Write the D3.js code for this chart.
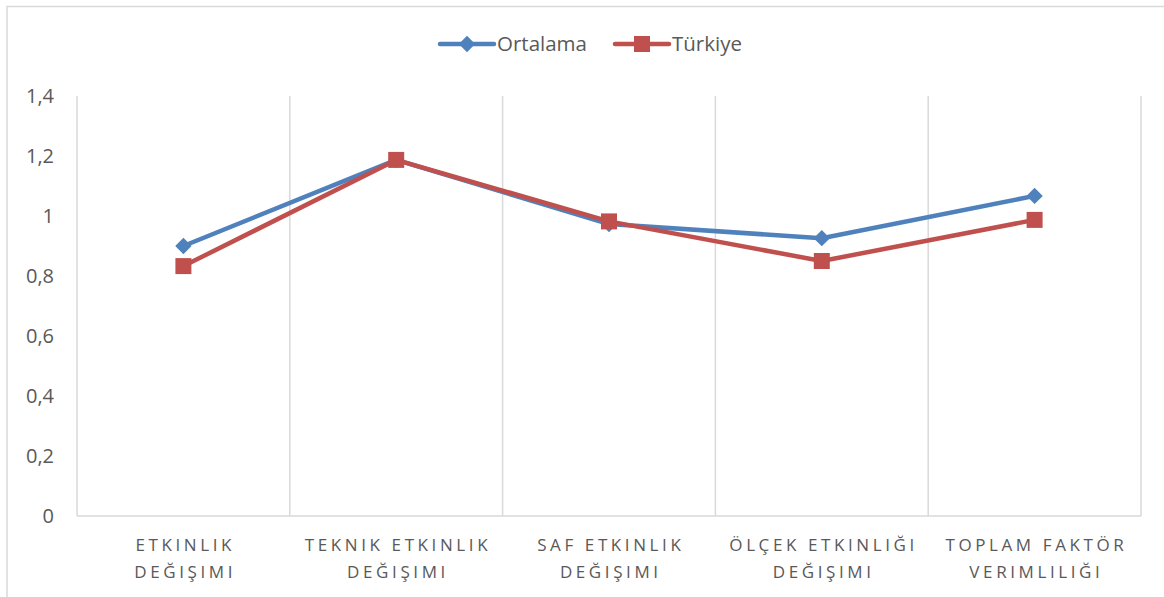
<!DOCTYPE html>
<html>
<head>
<meta charset="utf-8">
<script src="https://cdn.jsdelivr.net/npm/d3@7"></script>
<style>
  body { margin: 0; background: #fff; }
  svg { font-family: "Open Sans", "Noto Sans", sans-serif; }
</style>
</head>
<body>
<svg id="svg" width="1164" height="597"></svg>
<script>
var categories = [
    ["ETKINLIK", "DEĞIŞIMI"],
    ["TEKNIK ETKINLIK", "DEĞIŞIMI"],
    ["SAF ETKINLIK", "DEĞIŞIMI"],
    ["ÖLÇEK ETKINLIĞI", "DEĞIŞIMI"],
    ["TOPLAM FAKTÖR", "VERIMLILIĞI"]
];
var ortalama = [0.90, 1.187, 0.973, 0.926, 1.067];
var turkiye = [0.833, 1.187, 0.982, 0.85, 0.987];
var yTicks = [0, 0.2, 0.4, 0.6, 0.8, 1, 1.2, 1.4];
var seriesNames = ["Ortalama", "Türkiye"];

var svg = d3.select("svg"),
    margin = {top: 96, left: 77, right: 23, bottom: 81},
    width = 1164 - margin.left - margin.right,
    height = 597 - margin.top - margin.bottom;

// outer chart border
svg.append("path")
    .attr("d", "M7,597 V6.5 H1164")
    .attr("fill", "none")
    .attr("stroke", "#d9d9d9")
    .attr("stroke-width", 1.5);

var g = svg.append("g").attr("transform", "translate(" + margin.left + "," + margin.top + ")");

var x = d3.scaleBand()
    .domain(d3.range(categories.length))
    .range([0, width])
    .padding(0);

var y = d3.scaleLinear()
    .domain([0, 1.4])
    .range([height, 0]);

// vertical gridlines at category boundaries
var bounds = d3.range(categories.length + 1).map(function (i) {
    return i * x.step();
});
g.selectAll(".vgrid")
    .data(bounds)
    .enter().append("line")
    .attr("x1", function (d) { return d; })
    .attr("x2", function (d) { return d; })
    .attr("y1", 0)
    .attr("y2", height)
    .attr("stroke", "#d9d9d9")
    .attr("stroke-width", 1.5);

// baseline
g.append("line")
    .attr("x1", 0).attr("x2", width)
    .attr("y1", height).attr("y2", height)
    .attr("stroke", "#d9d9d9")
    .attr("stroke-width", 1.5);

// y axis labels
var yAxis = g.append("g")
    .call(d3.axisLeft(y).tickValues(yTicks).tickSize(0).tickPadding(23)
        .tickFormat(function (d) { return String(d).replace(".", ","); }));
yAxis.select(".domain").remove();
yAxis.selectAll("text")
    .attr("fill", "#595959")
    .style("font-size", "20px")
    .style("font-family", "'Open Sans', sans-serif");

// category labels
var cat = g.selectAll(".cat")
    .data(categories)
    .enter().append("text")
    .attr("class", "cat")
    .attr("text-anchor", "middle")
    .attr("fill", "#595959")
    .style("font-size", "17px")
    .style("letter-spacing", "3.6px")
    .attr("transform", function (d, i) {
        return "translate(" + (x(i) + x.bandwidth() / 2 + 1.8) + "," + (height + 35) + ")";
    });
cat.selectAll("tspan")
    .data(function (d) { return d; })
    .enter().append("tspan")
    .attr("x", 0)
    .attr("y", function (d, i) { return i * 27; })
    .text(function (d) { return d; });

var line = d3.line()
    .x(function (d, i) { return x(i) + x.bandwidth() / 2; })
    .y(function (d) { return y(d); });

var blue = "#4f81bd", red = "#c0504d";

function drawSeries(data, color, shape) {
    g.append("path")
        .datum(data)
        .attr("fill", "none")
        .attr("stroke", color)
        .attr("stroke-width", 4.5)
        .attr("stroke-linejoin", "round")
        .attr("d", line);
    g.selectAll(null)
        .data(data)
        .enter().append("path")
        .attr("d", d3.symbol().type(shape).size(shape === d3.symbolSquare ? 256 : 170))
        .attr("transform", function (d, i) {
            return "translate(" + (x(i) + x.bandwidth() / 2) + "," + y(d) + ")";
        })
        .attr("fill", color);
}

drawSeries(ortalama, blue, d3.symbolDiamond2 || d3.symbolDiamond);
drawSeries(turkiye, red, d3.symbolSquare);

// legend
var legend = svg.append("g").attr("transform", "translate(0,44)");
var legendItems = [
    {name: seriesNames[0], color: blue, shape: d3.symbolDiamond2 || d3.symbolDiamond, x: 440},
    {name: seriesNames[1], color: red, shape: d3.symbolSquare, x: 615}
];
legendItems.forEach(function (it) {
    legend.append("line")
        .attr("x1", it.x).attr("x2", it.x + 54)
        .attr("y1", 0).attr("y2", 0)
        .attr("stroke", it.color)
        .attr("stroke-width", 4.5)
        .attr("stroke-linecap", "round");
    legend.append("path")
        .attr("d", d3.symbol().type(it.shape).size(it.shape === d3.symbolSquare ? 256 : 170))
        .attr("transform", "translate(" + (it.x + 27) + ",0)")
        .attr("fill", it.color);
    legend.append("text")
        .attr("x", it.x + 57)
        .attr("y", 0)
        .attr("dy", "0.35em")
        .attr("fill", "#595959")
        .style("font-size", "20.5px")
        .text(it.name);
});
</script>
</body>
</html>
